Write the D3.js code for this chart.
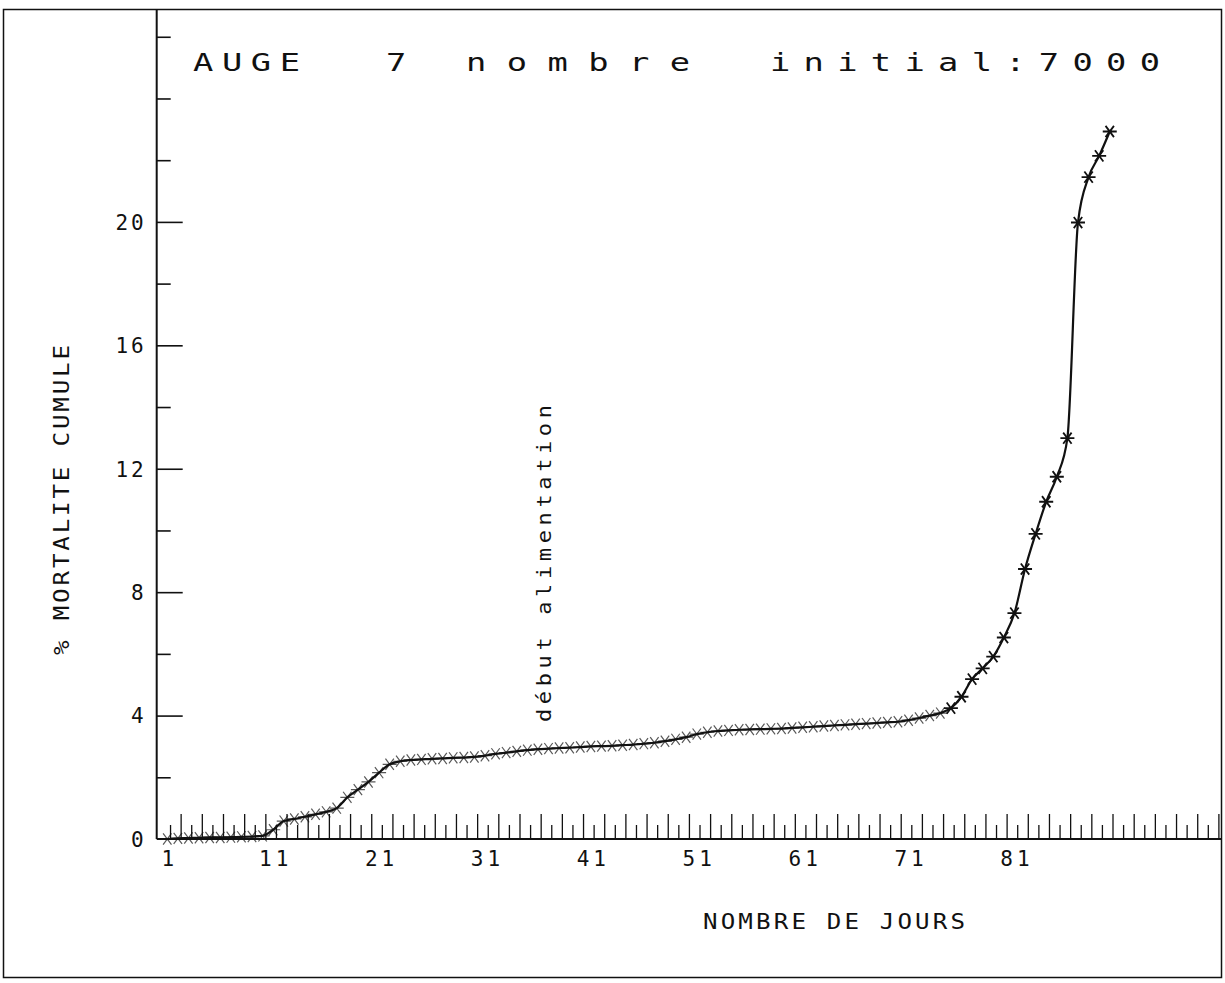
<!DOCTYPE html>
<html>
<head>
<meta charset="utf-8">
<script src="https://cdn.jsdelivr.net/npm/d3@7"></script>
<style>
  html, body { margin: 0; padding: 0; background: #fff; }
  svg { display: block; }
  text { font-family: "DejaVu Sans Mono", "Liberation Mono", monospace; fill: #111; }
</style>
</head>
<body>
<svg id="chart" width="1225" height="983"></svg>
<script>
// ---- data ----
const mortality = [
  0.00, 0.02, 0.03, 0.04, 0.05, 0.05, 0.06, 0.07, 0.08, 0.10,
  0.30, 0.58, 0.65, 0.72, 0.80, 0.88, 1.00, 1.35, 1.60, 1.85,
  2.15, 2.42, 2.52, 2.56, 2.58, 2.60, 2.61, 2.63, 2.64, 2.66,
  2.70, 2.76, 2.80, 2.84, 2.88, 2.91, 2.93, 2.95, 2.96, 2.98,
  3.00, 3.01, 3.02, 3.04, 3.06, 3.09, 3.12, 3.17, 3.23, 3.30,
  3.40, 3.46, 3.50, 3.52, 3.54, 3.55, 3.56, 3.57, 3.58, 3.60,
  3.62, 3.64, 3.66, 3.68, 3.70, 3.72, 3.74, 3.76, 3.78, 3.80,
  3.85, 3.92, 4.00, 4.08, 4.24, 4.61, 5.18, 5.53, 5.91, 6.53,
  7.32, 8.75, 9.89, 10.93, 11.74, 12.99, 19.98, 21.45, 22.14, 22.93
];
const xTickLabels = ["1", "11", "21", "31", "41", "51", "61", "71", "81"];
const yMajorTicks = [0, 4, 8, 12, 16, 20];
const yMinorTicks = [2, 6, 10, 14, 18, 22, 24, 26];
const titleParts = ["AUGE", "7", "nombre", "initial:7000"];
const yLabel = "% MORTALITE CUMULE";
const xLabel = "NOMBRE DE JOURS";
const annotation = "début alimentation";
const annotationDay = 36.5;

// ---- scales ----
const svg = d3.select("#chart");
const x = d3.scaleLinear().domain([0, 100.6]).range([156.7, 1222]);
const y = d3.scaleLinear().domain([0, 26.9]).range([839, 9]);

const points = mortality.map((v, i) => ({ day: i + 1, v }));

// stretched text helper (plotter-like wide glyphs)
function wideText(tx, ty, txt, fs, len, sx, rot) {
  const t = svg.append("text")
    .attr("transform", `translate(${tx},${ty})` + (rot ? ` rotate(${rot})` : "") + ` scale(${sx},1)`)
    .attr("font-size", fs).text(txt);
  if (len) t.attr("textLength", len / sx).attr("lengthAdjust", "spacing");
  return t;
}

// ---- frame ----
svg.append("rect")
  .attr("x", 3.5).attr("y", 9.5).attr("width", 1218).attr("height", 968)
  .attr("fill", "none").attr("stroke", "#111").attr("stroke-width", 1.5);

// ---- y axis ----
const gy = svg.append("g").attr("transform", `translate(${x(0)},0)`);
gy.call(d3.axisRight(y).tickValues(yMajorTicks.filter(d => d > 0)).tickSize(26).tickFormat(""));
gy.append("g").call(d3.axisRight(y).tickValues(yMinorTicks).tickSize(14).tickFormat(""));
gy.selectAll(".domain").remove();
gy.selectAll("line").attr("stroke", "#111").attr("stroke-width", 1.6);
svg.append("line")
  .attr("x1", x(0)).attr("x2", x(0)).attr("y1", y(26.9)).attr("y2", y(0))
  .attr("stroke", "#111").attr("stroke-width", 2);

const gyl = svg.append("g").attr("transform", `translate(${x(0) - 10},0)`);
gyl.call(d3.axisLeft(y).tickValues(yMajorTicks).tickSize(0).tickPadding(0).tickFormat(d3.format("d")));
gyl.select(".domain").remove();
gyl.selectAll("text")
  .attr("font-size", 21).attr("letter-spacing", 3).attr("dy", "0.35em")
  .attr("font-family", "DejaVu Sans Mono").style("fill", "#111");

// ---- x axis ----
svg.append("line")
  .attr("x1", x(0)).attr("x2", 1222).attr("y1", y(0)).attr("y2", y(0))
  .attr("stroke", "#111").attr("stroke-width", 2);
const tickDays = d3.range(1, 101).map(k => k + 0.26);
const gxl = svg.append("g").attr("transform", `translate(0,${y(0)})`);
gxl.call(d3.axisTop(x).tickValues(tickDays.filter((d, i) => i % 2 === 1)).tickSize(25).tickFormat(""));
gxl.append("g").call(d3.axisTop(x).tickValues(tickDays.filter((d, i) => i % 2 === 0)).tickSize(14).tickFormat(""));
gxl.selectAll(".domain").remove();
gxl.selectAll("line").attr("stroke", "#111").attr("stroke-width", 1.3);

const gxt = svg.append("g").attr("transform", `translate(0,866)`);
gxt.call(d3.axisBottom(x).tickValues(xTickLabels.map(Number)).tickSize(0).tickPadding(0).tickFormat((d, i) => xTickLabels[i]));
gxt.select(".domain").remove();
gxt.selectAll("text")
  .attr("font-size", 21).attr("letter-spacing", 4).attr("dy", 0).attr("dx", 2)
  .attr("font-family", "DejaVu Sans Mono").style("fill", "#111");

wideText(703, 929, xLabel, 21, 262, 1.15);
wideText(69, 655, yLabel, 21, 310, 1.15, -90);

// ---- title ----
const titleX = [193, 386, 466, 770];
const titleLen = [107, null, 224, 390];
titleParts.forEach((t, i) => wideText(titleX[i], 71, t, 25, titleLen[i], 1.35));

// ---- annotation ----
wideText(x(annotationDay) + 8, 722, annotation, 20, 317, 1.1, -90);

// ---- curve ----
const line = d3.line().x(d => x(d.day)).y(d => y(d.v)).curve(d3.curveMonotoneX);
svg.append("path").datum(points)
  .attr("d", line).attr("fill", "none").attr("stroke", "#111").attr("stroke-width", 2.2);

const r = 7;
const star = `M${-r},0L${r},0M${-r * 0.6},${-r * 0.8}L${r * 0.6},${r * 0.8}M${-r * 0.6},${r * 0.8}L${r * 0.6},${-r * 0.8}`;
svg.append("g").selectAll("path").data(points).join("path")
  .attr("transform", d => `translate(${x(d.day)},${y(d.v)})`)
  .attr("d", star)
  .attr("fill", "none")
  .attr("stroke", "#111")
  .attr("stroke-opacity", d => d.day >= 75 ? 1 : 0.7)
  .attr("stroke-width", d => d.day >= 75 ? 1.8 : 1.2);
</script>
</body>
</html>
